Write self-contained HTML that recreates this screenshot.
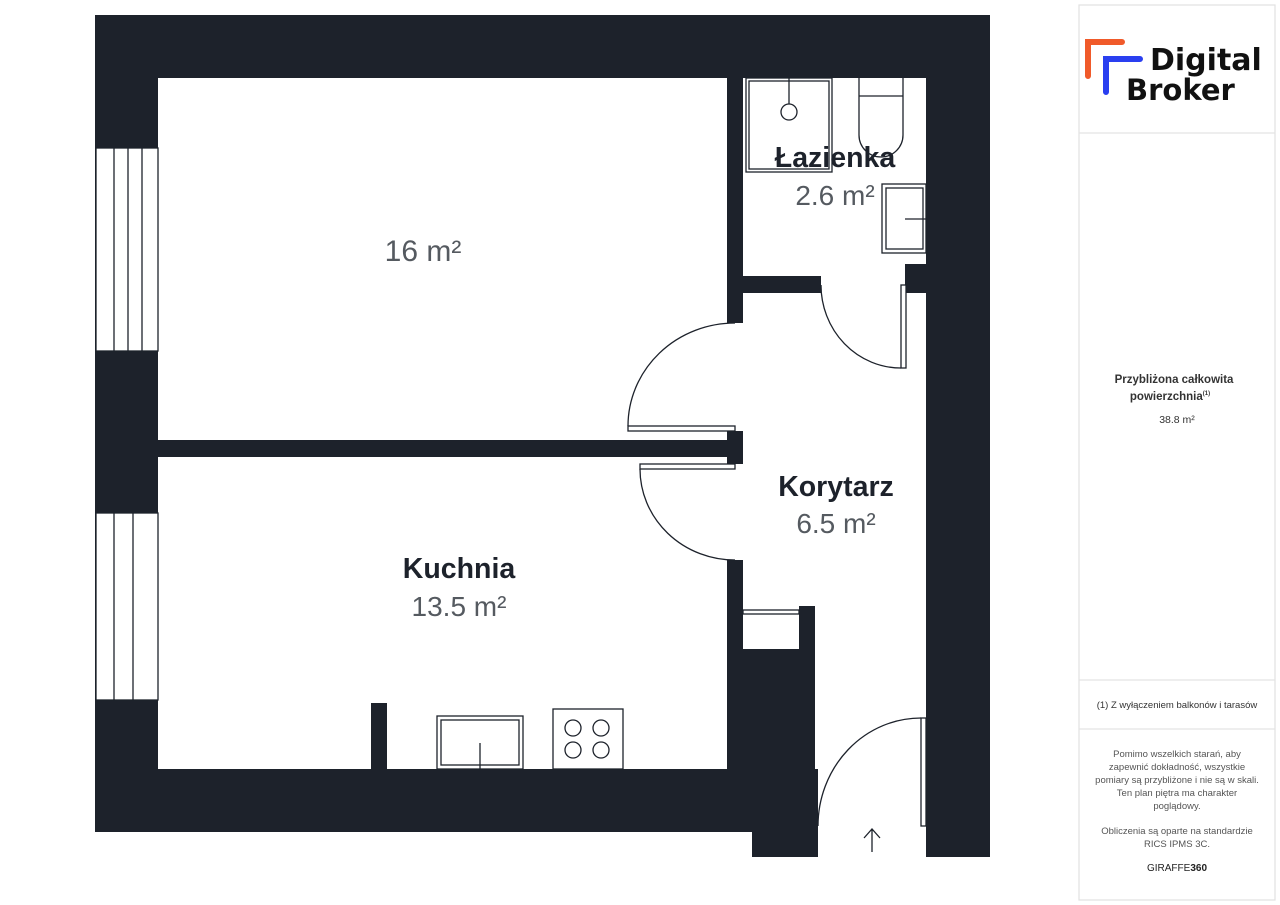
<!DOCTYPE html>
<html><head><meta charset="utf-8"><style>
body{margin:0;width:1280px;height:905px;background:#fff;overflow:hidden;font-family:"Liberation Sans",sans-serif}
svg{position:absolute;left:0;top:0}
</style></head><body>
<svg width="1280" height="905" viewBox="0 0 1280 905">
<g fill="#1d222b">
<rect x="95" y="15" width="895" height="63"/>
<rect x="95" y="15" width="63" height="817"/>
<rect x="95" y="769" width="657" height="63"/>
<rect x="752" y="769" width="66" height="88"/>
<rect x="926" y="15" width="64" height="842"/>
<rect x="158" y="440" width="569" height="17"/>
<rect x="727" y="431" width="16" height="33"/>
<rect x="727" y="78" width="16" height="245"/>
<rect x="727" y="560" width="16" height="209"/>
<rect x="743" y="649" width="72" height="183"/>
<rect x="799" y="606" width="16" height="50"/>
<rect x="743" y="276" width="78" height="17"/>
<rect x="905" y="264" width="21" height="29"/>
<rect x="371" y="703" width="16" height="66"/>
</g>
<g fill="#fff" stroke="#1d222b" stroke-width="1.3">
<rect x="96" y="148" width="62" height="203"/>
<rect x="96" y="513" width="62" height="187"/>
</g>
<g stroke="#1d222b" stroke-width="1.3" fill="none">
<line x1="114" y1="148" x2="114" y2="351"/><line x1="128" y1="148" x2="128" y2="351"/><line x1="142" y1="148" x2="142" y2="351"/>
<line x1="114" y1="513" x2="114" y2="700"/><line x1="133" y1="513" x2="133" y2="700"/>
<rect x="628" y="426" width="107" height="5" fill="#fff"/>
<path d="M628 426 A107 103 0 0 1 735 323"/>
<rect x="640" y="464" width="95" height="5" fill="#fff"/>
<path d="M640 469 A95 91 0 0 0 735 560"/>
<rect x="901" y="285" width="5" height="83" fill="#fff"/>
<path d="M821 285 A80 83 0 0 0 901 368"/>
<rect x="921" y="718" width="5" height="108" fill="#fff"/>
<path d="M921 718 A103 108 0 0 0 818 826"/>
<path d="M872 852 V830 M864 838 L872 829 L880 838"/>
<rect x="743" y="610" width="56" height="4" fill="#fff"/>
<rect x="746" y="78" width="86" height="94"/><rect x="749" y="81" width="80" height="88"/>
<line x1="789" y1="78" x2="789" y2="104"/><circle cx="789" cy="112" r="8"/>
<path d="M859 78 V135 A22 22 0 0 0 903 135 V78 M859 96 H903"/>
<rect x="882" y="184" width="44" height="69"/><rect x="886" y="188" width="37" height="61"/>
<line x1="905" y1="219" x2="926" y2="219"/>
<rect x="437" y="716" width="86" height="53" fill="#fff"/><rect x="441" y="720" width="78" height="45"/>
<line x1="480" y1="743" x2="480" y2="769"/>
<rect x="553" y="709" width="70" height="60" fill="#fff"/>
<circle cx="573" cy="728" r="8"/><circle cx="601" cy="728" r="8"/><circle cx="573" cy="750" r="8"/><circle cx="601" cy="750" r="8"/>
</g>
<g font-family="'Liberation Sans',sans-serif" text-anchor="middle">
<text x="423" y="261" font-size="30" fill="#555a60">16 m²</text>
<text x="835" y="167" font-size="28.5" font-weight="bold" fill="#1d222b">Łazienka</text>
<text x="835" y="205" font-size="28" fill="#555a60">2.6 m²</text>
<text x="836" y="496" font-size="28.5" font-weight="bold" fill="#1d222b">Korytarz</text>
<text x="836" y="533" font-size="28" fill="#555a60">6.5 m²</text>
<text x="459" y="578" font-size="28.5" font-weight="bold" fill="#1d222b">Kuchnia</text>
<text x="459" y="616" font-size="28" fill="#555a60">13.5 m²</text>
</g>
<g stroke="#e3e3e3" stroke-width="1.3" fill="none">
<rect x="1079" y="5" width="196" height="895"/>
<line x1="1079" y1="133" x2="1275" y2="133"/>
<line x1="1079" y1="680" x2="1275" y2="680"/>
<line x1="1079" y1="729" x2="1275" y2="729"/>
</g>
<path d="M1088 76 V42 H1122" stroke="#f05a2a" stroke-width="6" fill="none" stroke-linecap="round"/>
<path d="M1106 92 V59 H1140" stroke="#2a3ff0" stroke-width="6" fill="none" stroke-linecap="round"/>
<text x="1150" y="70" font-size="30" font-weight="bold" fill="#111" font-family="'DejaVu Sans',sans-serif">Digital</text>
<text x="1126" y="100" font-size="29" font-weight="bold" fill="#111" font-family="'DejaVu Sans',sans-serif">Broker</text>
<g font-family="'Liberation Sans',sans-serif" text-anchor="middle" fill="#333">
<text x="1174" y="383" font-size="11.5" font-weight="bold">Przybliżona całkowita</text>
<text x="1170" y="400" font-size="11.5" font-weight="bold">powierzchnia<tspan font-size="6" dy="-5">(1)</tspan></text>
<text x="1177" y="423" font-size="10.5">38.8 m²</text>
<text x="1177" y="708" font-size="9.5">(1) Z wyłączeniem balkonów i tarasów</text>
<g font-size="9.5" fill="#555">
<text x="1177" y="757">Pomimo wszelkich starań, aby</text>
<text x="1177" y="770">zapewnić dokładność, wszystkie</text>
<text x="1177" y="783">pomiary są przybliżone i nie są w skali.</text>
<text x="1177" y="796">Ten plan piętra ma charakter</text>
<text x="1177" y="809">poglądowy.</text>
<text x="1177" y="834">Obliczenia są oparte na standardzie</text>
<text x="1177" y="847">RICS IPMS 3C.</text>
</g>
<text x="1177" y="871" font-size="10" fill="#222">GIRAFFE<tspan font-weight="bold">360</tspan></text>
</g>
</svg>
</body></html>
